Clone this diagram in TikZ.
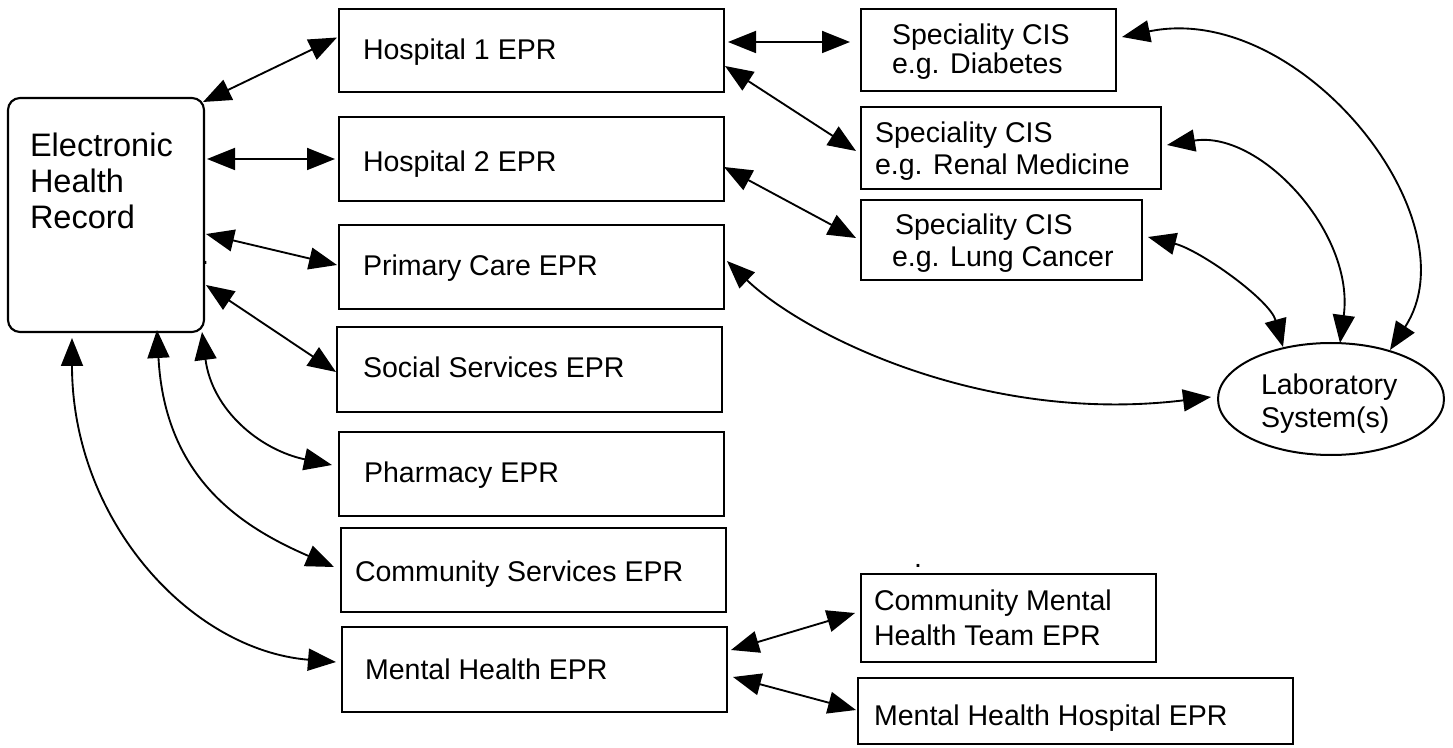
\documentclass[tikz,border=0pt]{standalone}
\usepackage{fontspec}
\setmainfont{Liberation Sans}
\usetikzlibrary{arrows.meta,calc,fit,shapes.geometric}

\begin{document}
\begin{tikzpicture}[x=0.75pt,y=-0.75pt,
  box/.style={draw,line width=1.6pt,inner sep=0pt,outer sep=0pt},
  txt/.style={anchor=base west,inner sep=0pt,outer sep=0pt,align=left,
    font=\fontsize{21.4pt}{#1}\selectfont},
  txt/.default=24pt,
  link/.style={line width=1.4pt,
    {Triangle[length=21pt,width=16.5pt]}-{Triangle[length=21pt,width=16.5pt]}},
]
\fill[white] (0,0) rectangle (1453,748);
\useasboundingbox (0,0) rectangle (1453,748);

% central record
\node[box,rounded corners=9pt,fit={(8,98) (204,332)}] (ehr) {};

% local patient records
\node[box,fit={(339,9) (724,92)}]    (h1) {};
\node[box,fit={(339,117) (724,201)}] (h2) {};
\node[box,fit={(339,225) (724,309)}] (pc) {};
\node[box,fit={(337,327) (722,412)}] (ss) {};
\node[box,fit={(339,432) (724,516)}] (ph) {};
\node[box,fit={(341,528) (726,612)}] (cs) {};
\node[box,fit={(342,627) (727,712)}] (mh) {};

% speciality and mental health systems
\node[box,fit={(861,9) (1116,91)}]    (diab)  {};
\node[box,fit={(861,107) (1161,189)}] (renal) {};
\node[box,fit={(861,200) (1142,280)}] (lung)  {};
\node[box,fit={(861,574) (1156,662)}] (cmht)  {};
\node[box,fit={(858,678) (1293,744)}] (mhh)   {};

% laboratory
\node[draw,ellipse,line width=1.5pt,inner sep=0pt,outer sep=0pt,
      minimum width=169.5pt,minimum height=84pt] (lab) at (1331,399) {};

% labels (multi-line labels sit on the baseline of their last line)
\node[txt=27pt,font=\fontsize{24.4pt}{27pt}\selectfont] (ehrt) at (30,229)
  {Electronic\\Health\\Record};
\node[txt] (h1t) at (363,60)  {Hospital 1 EPR};
\node[txt] (h2t) at (363,172) {Hospital 2 EPR};
\node[txt] (pct) at (363,276) {Primary Care EPR};
\node[txt] (sst) at (363,378) {Social Services EPR};
\node[txt] (pht) at (364,482) {Pharmacy EPR};
\node[txt] (cst) at (355,581) {Community Services EPR};
\node[txt] (mht) at (365,679) {Mental Health EPR};
\node[txt=21.75pt] (diabt)  at (892,74)  {Speciality CIS\\e.g. Diabetes};
\node[txt=24pt]    (renalt) at (875,175) {Speciality CIS\\e.g. Renal Medicine};
\node[txt=24pt]    (lungt)  at (895,267) {Speciality CIS\\\hspace*{-2.25pt}e.g. Lung Cancer};
\node[txt=26.25pt] (cmhtt)  at (874,645) {Community Mental\\Health Team EPR};
\node[txt]         (mhht)   at (874,725) {Mental Health Hospital EPR};
\node[txt=24.75pt] (labt)   at (1261,428) {Laboratory\\System(s)};
\node[txt] (dota) at (201,265) {.};
\node[txt] (dotb) at (914,567) {.};

% links from the central record
\draw[link] ($(ehr.north east)+(-1,4)$) -- ($(h1.west)+(-2,-13)$);
\draw[link] ($(ehr.east)+(3,-56)$) -- ($(h2.west)+(-4,0)$);
\draw[link] ($(ehr.east)+(2,19)$) -- ($(pc.west)+(-2,-2)$);
\draw[link] ($(ehr.east)+(2,70)$) -- ($(ss.west)+(-1,2.5)$);
\draw[link] ($(ehr.south east)+(-2,0)$) .. controls +(10,78) and +(-72,-15) .. ($(ph.west)+(-7,-9)$);
\draw[link] ($(ehr.south)+(51,-2)$) .. controls +(8,150) and +(-90,-39) .. ($(cs.west)+(-7,-3)$);
\draw[link] ($(ehr.south)+(-34,6)$) .. controls +(0,182) and +(-146,-12) .. ($(mh.west)+(-6,-7.5)$);

% hospital links
\draw[link] ($(h1.east)+(4,-8.5)$) -- ($(diab.west)+(-11,-8)$);
\draw[link] ($(h1.east)+(1,15.5)$) -- ($(renal.west)+(-5,3)$);
\draw[link] ($(h2.east)+(0,8)$) -- ($(lung.west)+(-5,-2)$);

% laboratory links
\draw[link] ($(pc.east)+(3,-6)$) .. controls +(75,72) and +(-230,28) .. ($(lab.center)+(-120,-2)$);
\draw[link] ($(lung.east)+(6,-3)$) .. controls +(52,13) and +(-13,-47) .. ($(lab.center)+(-48,-52)$);
\draw[link] ($(renal.east)+(6,-3)$) .. controls +(93,-15) and +(15,-110) .. ($(lab.center)+(9,-56)$);
\draw[link] ($(diab.east)+(6,-13)$) .. controls +(178,-37) and +(85,-130) .. ($(lab.center)+(59,-49)$);

% mental health links
\draw[link] ($(mh.east)+(4,-19.5)$) -- ($(cmht.west)+(-6,-5)$);
\draw[link] ($(mh.east)+(6,7.5)$) -- ($(mhh.west)+(-2,-1)$);
\end{tikzpicture}
\end{document}
